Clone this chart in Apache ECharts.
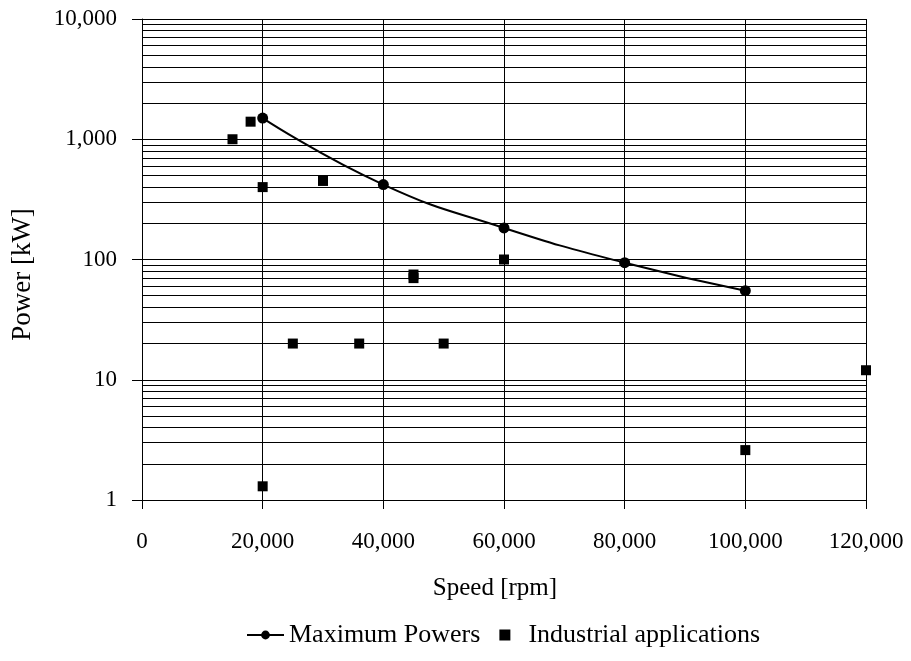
<!DOCTYPE html>
<html>
<head>
<meta charset="utf-8">
<script src="https://cdn.jsdelivr.net/npm/echarts@6/dist/echarts.min.js"></script>
<style>html,body{margin:0;padding:0;background:#fff}#c{width:911px;height:661px}</style>
</head>
<body>
<div id="c"></div>
<script>
const maxSpeed = [20000, 40000, 60000, 80000, 100000];
const maxPower = [1500, 420, 183, 94, 55];
const indSpeed = [15000, 18000, 20000, 30000, 45000, 45000, 25000, 36000, 50000, 20000, 60000, 100000, 120000];
const indPower = [1000, 1400, 400, 450, 75, 70, 20, 20, 20, 1.3, 100, 2.6, 12];
const minorGrid = [2,3,4,5,6,7,8,9,20,30,40,50,60,70,80,90,200,300,400,500,600,700,800,900,2000,3000,4000,5000,6000,7000,8000,9000];

function fmt(v){ return Number(v).toLocaleString('en-US'); }
const FONT = 'Liberation Serif';

const chart = echarts.init(document.getElementById('c'), null, {renderer:'canvas'});
chart.setOption({
  backgroundColor:'#fff',
  animation:false,
  textStyle:{fontFamily:FONT, color:'#000'},
  grid:{left:142, right:45, top:19, bottom:161, containLabel:false},
  legend:{
    top:617, left:241,
    data:[
      {name:'Maximum Powers'},
      {name:'Industrial applications', icon:'path://M0,0H10V10H0Z'}
    ],
    itemWidth:37, itemHeight:11, itemGap:19,
    textStyle:{fontFamily:FONT, fontSize:26, color:'#000'}
  },
  xAxis:{
    type:'value', min:0, max:120000, interval:20000,
    name:'Speed [rpm]', nameLocation:'middle', nameGap:76,
    nameTextStyle:{fontFamily:FONT, fontSize:25, color:'#000', padding:[0,18,0,0]},
    axisLine:{show:true, lineStyle:{color:'#000', width:1}},
    axisTick:{show:true, length:9, lineStyle:{color:'#000'}},
    axisLabel:{margin:30, fontFamily:FONT, fontSize:23, color:'#000', formatter:fmt},
    splitLine:{show:true, lineStyle:{color:'#000', width:1}}
  },
  yAxis:{
    type:'log', logBase:10, min:1, max:10000,
    name:'Power [kW]', nameLocation:'middle', nameGap:106, nameRotate:90,
    nameTextStyle:{fontFamily:FONT, fontSize:27, color:'#000', padding:[0,30,0,0]},
    axisLine:{show:true, lineStyle:{color:'#000', width:1}},
    axisTick:{show:true, length:10, lineStyle:{color:'#000'}},
    axisLabel:{margin:25, fontFamily:FONT, fontSize:23, color:'#000', formatter:fmt},
    splitLine:{show:true, lineStyle:{color:'#000', width:1}}
  },
  series:[
    {
      name:'Maximum Powers', type:'line', smooth:true,
      data:maxSpeed.map((s,i)=>[s, maxPower[i]]),
      symbol:'circle', symbolSize:11,
      itemStyle:{color:'#000', opacity:1}, lineStyle:{color:'#000', width:2},
      z:5
    },
    {
      name:'Industrial applications', type:'scatter',
      data:indSpeed.map((s,i)=>[s, indPower[i]]),
      symbol:'rect', symbolSize:10,
      itemStyle:{color:'#000', opacity:1},
      z:6,
      markLine:{
        silent:true, symbol:['none','none'], label:{show:false},
        lineStyle:{color:'#000', width:1, type:'solid', opacity:1},
        data:minorGrid.map(v=>({yAxis:v})),
        z:1
      }
    }
  ]
});
</script>
</body>
</html>
